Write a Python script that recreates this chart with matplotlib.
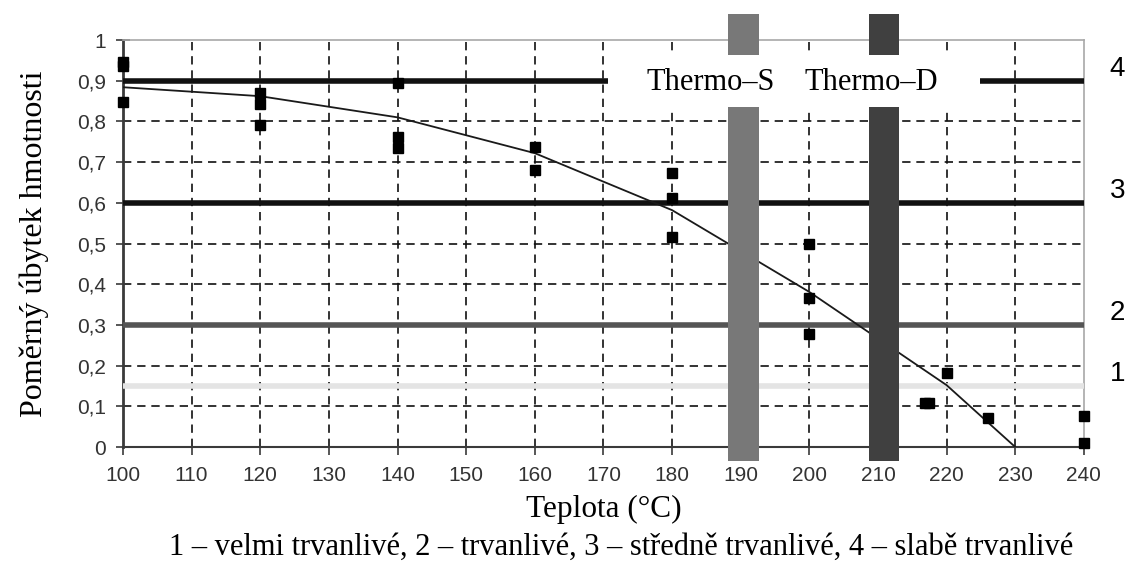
import matplotlib.pyplot as plt
from matplotlib.patches import Rectangle
from matplotlib.transforms import blended_transform_factory

# measured samples
meas_temp = [100, 100, 100, 120, 120, 120, 140, 140, 140, 160, 160,
             180, 180, 180, 200, 200, 200, 216.8, 217.4, 220, 226, 240, 240]
meas_loss = [0.947, 0.935, 0.847, 0.870, 0.843, 0.791, 0.894, 0.762, 0.734,
             0.737, 0.681, 0.673, 0.612, 0.516, 0.500, 0.366, 0.278,
             0.107, 0.107, 0.182, 0.071, 0.076, 0.010]

# fitted curve
fit_temp = [100, 120, 140, 160, 180, 200, 220, 230]
fit_loss = [0.884, 0.862, 0.810, 0.722, 0.582, 0.381, 0.152, 0.0]

# durability classes
class_names = ['1', '2', '3', '4']
class_levels = [0.15, 0.30, 0.60, 0.90]
class_colors = ['#e4e4e4', '#555555', '#111111', '#111111']

# treatment bands (start, end)
band_names = ['Thermo–S', 'Thermo–D']
band_ranges = [(188.2, 192.7), (208.7, 213.1)]
band_colors = ['#787878', '#404040']

x_ticks = list(range(100, 241, 10))
y_ticks = [0, 0.1, 0.2, 0.3, 0.4, 0.5, 0.6, 0.7, 0.8, 0.9, 1]
y_tick_labels = ['0', '0,1', '0,2', '0,3', '0,4', '0,5', '0,6', '0,7', '0,8', '0,9', '1']

caption = '1 – velmi trvanlivé, 2 – trvanlivé, 3 – středně trvanlivé, 4 – slabě trvanlivé'

SERIF = 'Liberation Serif'
SANS = 'Liberation Sans'

fig = plt.figure(figsize=(11.3, 5.62), dpi=100)
ax = fig.add_axes([0.1088, 0.2046, 0.8504, 0.7242])
ax.set_xlim(100, 240)
ax.set_ylim(0, 1)

# dashed grid, drawn only on the interior ticks
for xv in x_ticks[1:-1]:
    ax.axvline(xv, color='#111111', lw=1.2, ls=(0, (5, 3.5)), zorder=1)
for yv in y_ticks[1:-1]:
    ax.axhline(yv, color='#111111', lw=1.2, ls=(0, (5, 3.5)), zorder=1)

# class lines
for lvl, col in zip(class_levels, class_colors):
    ax.axhline(lvl, color=col, lw=4, zorder=3, solid_capstyle='butt')

# fitted curve
ax.plot(fit_temp, fit_loss, color='#1a1a1a', lw=1.3, zorder=4)

# measured points
ax.plot(meas_temp, meas_loss, 's', color='black', ms=6.5, zorder=6, clip_on=False)

# treatment bands, they stick out of the frame
for (x0, x1), col in zip(band_ranges, band_colors):
    ax.add_patch(Rectangle((x0, -0.035), x1 - x0, 1.10, facecolor=col,
                           edgecolor='none', zorder=5, clip_on=False))

# white label box over grid, band and line 4
ax.add_patch(Rectangle((170.6, 0.835), 54.3, 0.128, facecolor='white',
                       edgecolor='none', zorder=7, clip_on=False))
ax.text(185.6, 0.877, band_names[0], family=SERIF, fontsize=22,
        ha='center', va='baseline', zorder=8)
ax.text(209.0, 0.877, band_names[1], family=SERIF, fontsize=22,
        ha='center', va='baseline', zorder=8)

# class numbers on the right
trans = blended_transform_factory(ax.transAxes, ax.transData)
for name, lvl in zip(class_names, class_levels):
    ax.text(1.035, lvl + 0.03, name, transform=trans, family=SANS,
            fontsize=20, ha='center', va='center', clip_on=False)

# frame
ax.spines['top'].set_color('#a8a8a8')
ax.spines['right'].set_color('#a8a8a8')
ax.spines['top'].set_linewidth(1.2)
ax.spines['right'].set_linewidth(1.2)
ax.spines['left'].set_color('#3a3a3a')
ax.spines['left'].set_linewidth(2)
ax.spines['bottom'].set_color('#3a3a3a')
ax.spines['bottom'].set_linewidth(1.5)
ax.spines['left'].set_zorder(2)

ax.set_xticks(x_ticks)
ax.set_xticklabels([str(t) for t in x_ticks])
ax.set_yticks(y_ticks)
ax.set_yticklabels(y_tick_labels)
ax.tick_params(axis='x', direction='out', length=6, width=1.2, color='#3a3a3a',
               labelsize=15, labelcolor='#333333', pad=8)
ax.tick_params(axis='y', direction='inout', length=10, width=1.2, color='#3a3a3a',
               labelsize=15, labelcolor='#333333', pad=7)
for lab in ax.get_xticklabels() + ax.get_yticklabels():
    lab.set_family(SANS)

ax.set_xlabel('Teplota (°C)', family=SERIF, fontsize=22.5, labelpad=7)
ax.set_ylabel('Poměrný úbytek hmotnosti', family=SERIF, fontsize=23, labelpad=20)

fig.text(0.55, 0.012, caption, family=SERIF, fontsize=22, ha='center', va='baseline')

fig.savefig('out.png', dpi=100)
